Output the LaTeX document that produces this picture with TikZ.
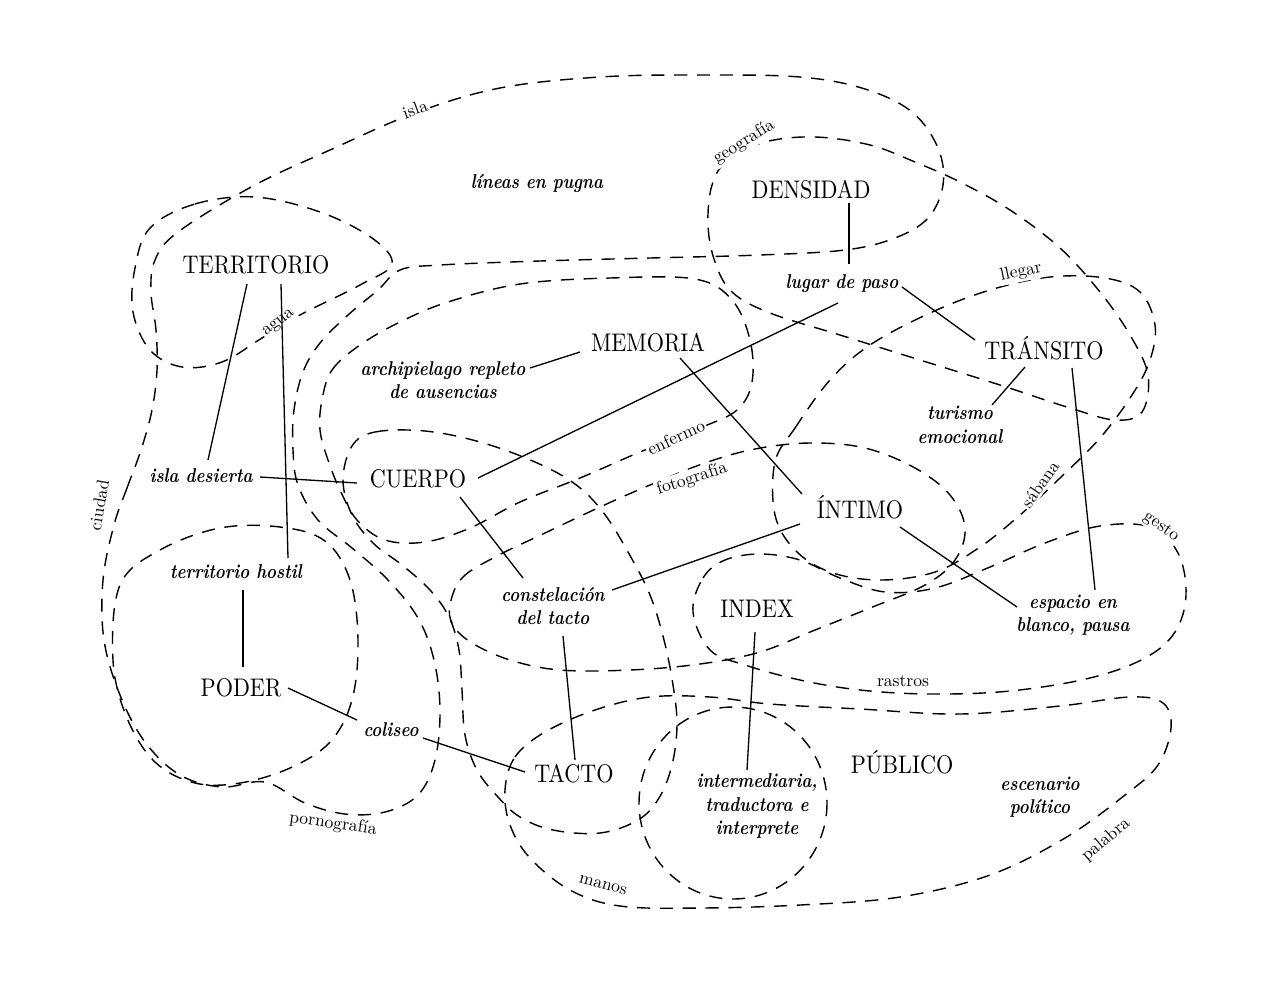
\documentclass[tikz,border=0pt]{standalone}
\usepackage{fontspec}
\newfontfamily\bigfnt[Extension=.otf, UprightFont=*-regular, FakeStretch=0.87]{lmroman10}
\newfontfamily\itfnt[Extension=.otf, UprightFont=*-bolditalic, FakeStretch=0.84]{lmroman10}
\usetikzlibrary{calc}
\begin{document}
\begin{tikzpicture}[x=0.02cm,y=-0.02cm,
  big/.style={font=\bigfnt\fontsize{14.5}{17}\selectfont, inner sep=1pt, fill=white},
  ital/.style={font=\itfnt\fontsize{11.4}{13.4}\selectfont, align=center, inner sep=1pt, fill=white},
  lbl/.style={font=\fontsize{10}{12}\selectfont, inner sep=1pt, fill=white},
  lblnf/.style={font=\fontsize{10}{12}\selectfont, inner sep=1pt},
  dsh/.style={line width=0.8pt, dash pattern=on 7.5pt off 5.5pt},
  con/.style={line width=0.75pt}]
\useasboundingbox (0,0) rectangle (1280,988);
\fill[white] (0,0) rectangle (1280,988);

% A: TERRITORIO loop
\draw[dsh] plot[smooth cycle, tension=0.6] coordinates {(150,228) (195,204) (255,197) (320,212) (372,238) (392,264) (360,285) (300,315) (262,338) (222,362) (182,367) (150,350) (133,312) (135,268)};
% B: big isla loop
\draw[dsh] plot[smooth cycle, tension=0.6] coordinates {(114,525) (127,488) (141,450) (152,410) (157,370) (156,330) (151,292) (155,260) (178,232) (253,186) (330,150) (415,113) (500,88) (600,77) (700,75) (800,77) (865,89) (912,112) (938,148) (943,185) (928,218) (895,238) (845,250) (760,255) (650,258) (540,261) (440,265) (400,270) (378,290) (348,315) (320,343) (303,372) (294,410) (293,450) (298,485) (318,520) (352,548) (388,580) (418,618) (434,660) (440,710) (435,760) (418,795) (385,812) (345,814) (305,803) (265,782) (222,787) (180,775) (145,742) (120,695) (104,640) (103,580)};
% C: DENSIDAD loop
\draw[dsh] plot[smooth cycle, tension=0.6] coordinates {(712,185) (728,160) (765,142) (815,137) (870,145) (915,162) (960,182) (1010,210) (1060,248) (1100,292) (1130,335) (1148,375) (1142,412) (1115,420) (1070,408) (1000,385) (920,360) (840,335) (770,313) (732,292) (715,262) (708,225)};
% D: llegar loop
\draw[dsh] plot[smooth cycle, tension=0.6] coordinates {(775,462) (795,428) (830,380) (870,345) (930,313) (990,290) (1050,277) (1105,278) (1140,292) (1155,325) (1150,360) (1132,395) (1100,438) (1060,478) (1020,515) (980,547) (935,572) (880,580) (830,572) (795,550) (775,515)};
% E: fotografia / INTIMO loop
\draw[dsh] plot[smooth cycle, tension=0.6] coordinates {(450,605) (462,578) (495,557) (545,533) (600,507) (650,485) (705,463) (755,449) (810,443) (865,448) (915,468) (950,495) (965,528) (955,560) (925,585) (870,608) (815,630) (760,652) (700,664) (630,670) (560,670) (510,660) (472,643) (453,625)};
% F: INDEX / gesto loop
\draw[dsh] plot[smooth cycle, tension=0.6] coordinates {(693,612) (703,578) (725,560) (760,554) (800,560) (840,578) (885,592) (935,588) (990,567) (1045,543) (1100,526) (1150,527) (1178,553) (1186,595) (1175,632) (1145,658) (1090,678) (1010,691) (930,694) (860,690) (800,680) (745,665) (710,650)};
% G: PUBLICO / manos loop
\draw[dsh] plot[smooth cycle, tension=0.6] coordinates {(505,790) (515,757) (545,732) (595,710) (650,697) (710,697) (770,704) (860,709) (960,714) (1060,706) (1130,697) (1163,703) (1171,728) (1158,765) (1125,795) (1065,838) (990,875) (900,897) (800,905) (700,908) (620,906) (570,890) (530,858) (510,825)};
% H: MEMORIA loop
\draw[dsh] plot[smooth cycle, tension=0.6] coordinates {(322,400) (332,370) (360,345) (400,322) (448,302) (520,284) (610,278) (695,279) (732,300) (750,340) (752,382) (737,410) (700,428) (640,452) (580,478) (520,502) (470,528) (425,542) (385,540) (357,520) (340,490) (328,460) (320,430)};
% I: CUERPO / TACTO loop
\draw[dsh] plot[smooth cycle, tension=0.6] coordinates {(352,446) (375,432) (425,431) (480,442) (535,462) (575,484) (603,512) (628,552) (650,595) (664,640) (673,685) (677,725) (672,765) (659,798) (638,820) (600,833) (553,830) (520,817) (498,797) (477,770) (465,735) (462,690) (459,650) (449,617) (430,590) (402,565) (373,543) (352,515) (343,480)};
% J: PODER loop
\draw[dsh] plot[smooth cycle, tension=0.6] coordinates {(120,585) (160,550) (220,528) (280,527) (325,541) (350,580) (358,640) (352,700) (330,742) (290,768) (240,783) (195,783) (155,762) (127,718) (113,660)};
% K: intermediaria circle
\draw[dsh] (733,803) ellipse [x radius=94, y radius=96];

% curve labels
\node[lbl, rotate=20] (lisla) at (415,109) {isla};
\node[lbl, rotate=32] (lgeo) at (744,142) {geografía};
\node[lbl, rotate=38] (lagua) at (279,323) {agua};
\node[lbl, rotate=12] (lllegar) at (1021,272) {llegar};
\node[lbl, rotate=25] (lenf) at (676,437) {enfermo};
\node[lbl, rotate=18] (lfoto) at (692,479) {fotografía};
\node[lbl, rotate=55] (lsab) at (1040,484) {sábana};
\node[lbl, rotate=-35] (lgesto) at (1161,527) {gesto};
\node[lblnf, rotate=80] (lciudad) at (99,505) {ciudad};
\node[lbl] (lrastros) at (903,681) {rastros};
\node[lbl, rotate=-8] (lporno) at (333,824) {pornografía};
\node[lbl, rotate=-15] (lmanos) at (603,885) {manos};
\node[lblnf, rotate=40] (lpalabra) at (1106,840) {palabra};

% main concept nodes
\node[big] (terr) at (256,265) {TERRITORIO};
\node[big] (dens) at (811,190) {DENSIDAD};
\node[big] (memo) at (648,343) {MEMORIA};
\node[big] (tran) at (1044,348) {TRÁNSITO};
\node[big] (cuer) at (418,479) {CUERPO};
\node[big] (inti) at (860,507) {ÍNTIMO};
\node[big] (inde) at (757,609) {INDEX};
\node[big] (pode) at (241,688) {PODER};
\node[big] (tact) at (574,774) {TACTO};
\node[big] (publ) at (902,762) {PÚBLICO};

% italic nodes
\node[ital] (lineas) at (537,184) {líneas en pugna};
\node[ital] (lugar) at (842,284) {lugar de paso};
\node[ital] (archi) at (443,380) {archipielago repleto\\de ausencias};
\node[ital] (turismo) at (960,425) {turismo\\emocional};
\node[ital] (islad) at (201,476) {isla desierta};
\node[ital] (terrh) at (236,572) {territorio hostil};
\node[ital] (const) at (553,606) {constelación\\del tacto};
\node[ital] (espa) at (1073,615) {espacio en\\blanco, pausa};
\node[ital] (coli) at (391,730) {coliseo};
\node[ital] (inter) at (757,806) {intermediaria,\\traductora e\\interprete};
\node[ital] (esce) at (1040,797) {escenario\\político};

% connectors
\draw[con] ($(dens)+(38,13)$) -- ($(lugar)+(7,-20)$);
\draw[con] ($(lugar)+(60,3)$) -- ($(tran)+(-69,-8)$);
\draw[con] ($(lugar)+(-4,19)$) -- ($(cuer)+(60,-1)$);
\draw[con] ($(terr)+(-9,19)$) -- ($(islad)+(7,-16)$);
\draw[con] ($(terr)+(25,19)$) -- ($(terrh)+(52,-14)$);
\draw[con] ($(islad)+(59,1)$) -- ($(cuer)+(-61,4)$);
\draw[con] ($(memo)+(-68,9)$) -- ($(archi)+(87,-12)$);
\draw[con] ($(memo)+(32,15)$) -- ($(inti)+(-58,-13)$);
\draw[con] ($(tran)+(-19,19)$) -- ($(turismo)+(32,-20)$);
\draw[con] ($(tran)+(28,20)$) -- ($(espa)+(22,-25)$);
\draw[con] ($(inti)+(40,20)$) -- ($(espa)+(-56,-8)$);
\draw[con] ($(inti)+(-60,17)$) -- ($(const)+(59,-16)$);
\draw[con] ($(cuer)+(42,18)$) -- ($(const)+(-30,-28)$);
\draw[con] ($(const)+(10,30)$) -- ($(tact)+(1,-14)$);
\draw[con] ($(terrh)+(7,18)$) -- ($(pode)+(2,-21)$);
\draw[con] ($(pode)+(47,0)$) -- ($(coli)+(-34,-10)$);
\draw[con] ($(coli)+(32,8)$) -- ($(tact)+(-49,-2)$);
\draw[con] ($(inde)+(-2,23)$) -- ($(inter)+(-10,-36)$);
\end{tikzpicture}
\end{document}
